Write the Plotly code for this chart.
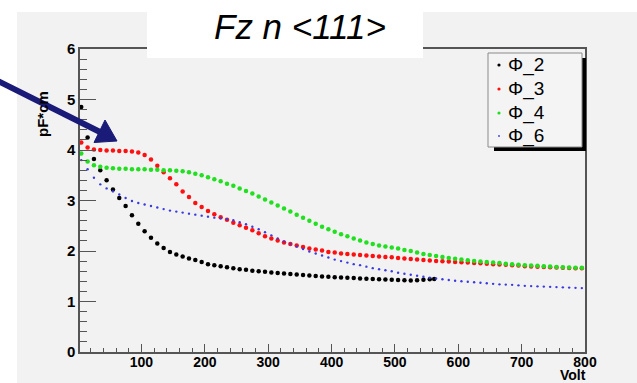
import plotly.graph_objects as go

# ---------------- data ----------------
volts = [5, 15, 25, 35, 45, 55, 65, 75, 85, 95,
         105, 115, 125, 135, 145, 155, 165, 175, 185, 195,
         205, 215, 225, 235, 245, 255, 265, 275, 285, 295,
         305, 315, 325, 335, 345, 355, 365, 375, 385, 395,
         405, 415, 425, 435, 445, 455, 465, 475, 485, 495,
         505, 515, 525, 535, 545, 555, 565, 575, 585, 595,
         605, 615, 625, 635, 645, 655, 665, 675, 685, 695,
         705, 715, 725, 735, 745, 755, 765, 775, 785, 795]

volts_phi2 = [5, 15, 25, 35, 45, 55, 65, 75, 85, 95,
              105, 115, 125, 135, 145, 155, 165, 175, 185, 195,
              205, 215, 225, 235, 245, 255, 265, 275, 285, 295,
              305, 315, 325, 335, 345, 355, 365, 375, 385, 395,
              405, 415, 425, 435, 445, 455, 465, 475, 485, 495,
              505, 515, 525, 535, 545, 555, 562]
phi2 = [4.85, 4.25, 3.82, 3.60, 3.40, 3.22, 3.05, 2.89, 2.71, 2.54,
        2.39, 2.26, 2.15, 2.06, 1.98, 1.93, 1.89, 1.85, 1.82, 1.78,
        1.74, 1.72, 1.70, 1.68, 1.66, 1.64, 1.63, 1.61, 1.60, 1.59,
        1.575, 1.565, 1.555, 1.545, 1.535, 1.525, 1.515, 1.505, 1.495, 1.49,
        1.48, 1.475, 1.47, 1.465, 1.455, 1.45, 1.445, 1.44, 1.435, 1.43,
        1.425, 1.42, 1.415, 1.42, 1.43, 1.44, 1.445]

phi3 = [4.15, 4.05, 4.01, 4.00, 3.99, 3.99, 3.98, 3.98, 3.97, 3.95,
        3.90, 3.81, 3.69, 3.56, 3.44, 3.32, 3.18, 3.07, 2.95, 2.87,
        2.79, 2.73, 2.67, 2.62, 2.56, 2.51, 2.46, 2.41, 2.35, 2.29,
        2.25, 2.21, 2.17, 2.14, 2.11, 2.08, 2.05, 2.03, 2.01, 1.98,
        1.97, 1.95, 1.94, 1.93, 1.92, 1.91, 1.90, 1.89, 1.88, 1.875,
        1.86, 1.85, 1.84, 1.83, 1.82, 1.81, 1.80, 1.795, 1.79, 1.78,
        1.775, 1.77, 1.76, 1.755, 1.75, 1.74, 1.735, 1.73, 1.72, 1.715,
        1.70, 1.695, 1.69, 1.685, 1.68, 1.675, 1.67, 1.665, 1.66, 1.66]

phi4 = [3.93, 3.77, 3.70, 3.67, 3.65, 3.64, 3.63, 3.63, 3.62, 3.62,
        3.62, 3.61, 3.61, 3.60, 3.60, 3.59, 3.58, 3.56, 3.53, 3.50,
        3.46, 3.42, 3.38, 3.33, 3.29, 3.24, 3.19, 3.14, 3.08, 3.02,
        2.96, 2.90, 2.84, 2.78, 2.72, 2.66, 2.60, 2.54, 2.48, 2.43,
        2.38, 2.33, 2.29, 2.25, 2.21, 2.17, 2.14, 2.11, 2.09, 2.07,
        2.05, 2.02, 2.00, 1.97, 1.94, 1.92, 1.90, 1.88, 1.86, 1.845,
        1.83, 1.815, 1.80, 1.79, 1.78, 1.77, 1.76, 1.75, 1.74, 1.73,
        1.72, 1.715, 1.71, 1.70, 1.695, 1.685, 1.68, 1.675, 1.67, 1.67]

phi6 = [3.80, 3.62, 3.45, 3.32, 3.24, 3.18, 3.12, 3.05, 2.99, 2.95,
        2.92, 2.89, 2.86, 2.83, 2.80, 2.78, 2.76, 2.74, 2.72, 2.70,
        2.68, 2.66, 2.65, 2.63, 2.61, 2.57, 2.53, 2.48, 2.43, 2.37,
        2.31, 2.25, 2.19, 2.14, 2.09, 2.04, 1.99, 1.95, 1.91, 1.87,
        1.83, 1.80, 1.77, 1.74, 1.72, 1.69, 1.66, 1.64, 1.62, 1.60,
        1.57, 1.55, 1.53, 1.51, 1.49, 1.47, 1.455, 1.44, 1.425, 1.41,
        1.40, 1.39, 1.38, 1.37, 1.36, 1.35, 1.34, 1.335, 1.33, 1.32,
        1.31, 1.305, 1.30, 1.295, 1.29, 1.285, 1.28, 1.275, 1.27, 1.265]

series_names = ["Φ_2", "Φ_3", "Φ_4", "Φ_6"]
series_colors = ["#000000", "#ff1010", "#20e020", "#3a3ae0"]
series_sizes = [4.5, 4.5, 4.5, 2.4]
x_ticks = [100, 200, 300, 400, 500, 600, 700, 800]
y_ticks = [0, 1, 2, 3, 4, 5, 6]

# ---------------- layout geometry ----------------
W, H = 637, 383
L, R, T, B = 80, 52, 49, 31
PW, PH = W - L - R, H - T - B
GREY = "#f2f2f2"
AXC = "#555555"
FONT = "Liberation Sans, Arial, Helvetica, sans-serif"
NAVY = "#1a1a78"


def px(xp):
    return (xp - L) / PW


def py(yp):
    return (H - B - yp) / PH


fig = go.Figure()
xs_list = [volts_phi2, volts, volts, volts]
ys_list = [phi2, phi3, phi4, phi6]
for name, xs, ys, c, s in zip(series_names, xs_list, ys_list, series_colors, series_sizes):
    fig.add_trace(go.Scatter(x=xs, y=ys, mode="markers", name=name,
                             marker=dict(color=c, size=s, line=dict(width=0)),
                             showlegend=False))

shapes = []
# canvas grey area
shapes.append(dict(type="rect", xref="paper", yref="paper", layer="below",
                   x0=px(17), x1=px(W + 5), y0=py(12), y1=py(H + 5),
                   fillcolor=GREY, line=dict(width=0)))
# title white box
shapes.append(dict(type="rect", xref="paper", yref="paper", layer="above",
                   x0=px(147), x1=px(423), y0=py(58), y1=py(-5),
                   fillcolor="white", line=dict(width=0)))
# legend shadow and box
shapes.append(dict(type="rect", xref="paper", yref="paper", layer="above",
                   x0=px(494), x1=px(586), y0=py(151), y1=py(58),
                   fillcolor="black", line=dict(width=0)))
shapes.append(dict(type="rect", xref="paper", yref="paper", layer="above",
                   x0=px(488), x1=px(582), y0=py(147), y1=py(53),
                   fillcolor="#f4f4f4", line=dict(color="#8a8a8a", width=1)))
# arrow (navy) : shaft + head
shapes.append(dict(type="line", xref="paper", yref="paper", layer="above",
                   x0=px(-5), y0=py(79.5), x1=px(100), y1=py(132),
                   line=dict(color=NAVY, width=6)))
shapes.append(dict(type="path", xref="paper", yref="paper", layer="above",
                   path=f"M {px(117)},{py(141)} L {px(94)},{py(142.5)} L {px(105)},{py(120)} Z",
                   fillcolor=NAVY, line=dict(color=NAVY, width=1)))

annotations = []
rows = [65, 89, 113, 136]
for name, c, s, yr in zip(series_names, series_colors, series_sizes, rows):
    r = 1.6 if s > 3 else 0.9
    shapes.append(dict(type="circle", xref="paper", yref="paper", layer="above",
                       xsizemode="pixel", ysizemode="pixel",
                       xanchor=px(499), yanchor=py(yr),
                       x0=-r, x1=r, y0=-r, y1=r,
                       fillcolor=c, line=dict(width=0)))
    annotations.append(dict(text=name, xref="paper", yref="paper",
                            x=px(506), y=py(yr), xanchor="left", yanchor="middle",
                            showarrow=False,
                            font=dict(family=FONT, size=19, color="black")))

# title
annotations.append(dict(text="Fz n &lt;111&gt;", xref="paper", yref="paper",
                        x=px(300), y=py(26), xanchor="center", yanchor="middle",
                        showarrow=False,
                        font=dict(family=FONT, size=35, color="black", style="italic")))
# axis titles
annotations.append(dict(text="Volt", xref="paper", yref="paper",
                        x=px(588), y=py(374.5), xanchor="right", yanchor="middle",
                        showarrow=False,
                        font=dict(family=FONT, size=14, color="black", weight="bold")))
annotations.append(dict(text="pF*cm", xref="paper", yref="paper", textangle=-90,
                        x=px(42), y=py(114), xanchor="center", yanchor="middle",
                        showarrow=False,
                        font=dict(family=FONT, size=15, color="black", weight="bold")))

fig.update_layout(
    width=W, height=H,
    margin=dict(l=L, r=R, t=T, b=B, pad=0),
    paper_bgcolor="white", plot_bgcolor=GREY,
    showlegend=False,
    shapes=shapes, annotations=annotations,
    xaxis=dict(range=[3, 800], tickvals=x_ticks, ticks="inside", ticklen=8,
               tickcolor=AXC, tickwidth=1, showgrid=False, zeroline=False,
               showline=True, linecolor=AXC, linewidth=1.5, mirror=True,
               ticklabelstandoff=-4,
               tickfont=dict(family=FONT, size=14, color="black", weight="bold"),
               minor=dict(ticks="inside", ticklen=4, dtick=20, tick0=0,
                          tickcolor=AXC, showgrid=False)),
    yaxis=dict(range=[0, 6], tickvals=y_ticks, ticks="inside", ticklen=16,
               tickcolor=AXC, tickwidth=1, showgrid=False, zeroline=False,
               showline=True, linecolor=AXC, linewidth=1.5, mirror=True,
               tickfont=dict(family=FONT, size=15, color="black", weight="bold"),
               minor=dict(ticks="inside", ticklen=7, dtick=0.2, tick0=0,
                          tickcolor=AXC, showgrid=False)),
)

fig.write_html("out.html")
